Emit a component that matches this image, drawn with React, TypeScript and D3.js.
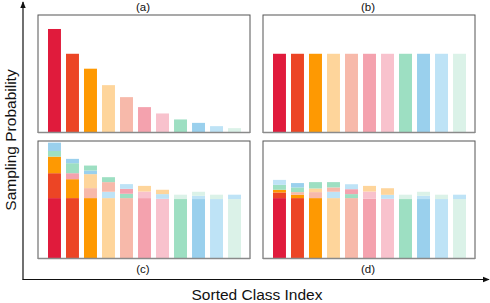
import React, { useEffect, useRef } from 'react'
import * as d3 from 'd3'

// class colours, sorted from head to tail class
const classColors = [
  '#e01b3c', '#ec4525', '#fe9902', '#fed59b', '#f7b9aa', '#f4a2ae',
  '#f8c2cd', '#9ddfc2', '#9ad0ed', '#bee3f6', '#dbf2e8',
]
const classIdx = d3.range(11)

// (a) original long-tailed sampling probability
const probA = [0.881, 0.67, 0.543, 0.403, 0.301, 0.216, 0.162, 0.111, 0.082, 0.054, 0.037]
// (b) class-balanced sampling
const probB = [0.67, 0.67, 0.67, 0.67, 0.67, 0.67, 0.67, 0.67, 0.67, 0.67, 0.67]

// (c),(d): stacked segments [class colour index, height]
const stackC = [
  [[0, 0.514], [1, 0.212], [2, 0.141], [7, 0.048], [8, 0.071]],
  [[1, 0.514], [2, 0.161], [5, 0.051], [7, 0.085], [8, 0.037]],
  [[2, 0.514], [4, 0.085], [3, 0.119], [8, 0.031], [7, 0.042]],
  [[3, 0.514], [9, 0.054], [4, 0.082], [7, 0.042]],
  [[4, 0.514], [7, 0.037], [5, 0.042], [9, 0.04]],
  [[5, 0.514], [6, 0.056], [3, 0.048]],
  [[6, 0.508], [9, 0.04], [3, 0.037]],
  [[7, 0.506], [10, 0.037]],
  [[8, 0.506], [9, 0.028], [10, 0.034]],
  [[9, 0.506], [10, 0.037]],
  [[10, 0.506], [9, 0.037]],
]
const stackD = [
  [[0, 0.514], [1, 0.048], [2, 0.023], [7, 0.042], [9, 0.042]],
  [[1, 0.514], [2, 0.028], [4, 0.023], [7, 0.04], [8, 0.037]],
  [[2, 0.514], [4, 0.051], [3, 0.031], [7, 0.054]],
  [[3, 0.514], [9, 0.054], [4, 0.037], [7, 0.045]],
  [[4, 0.514], [7, 0.034], [5, 0.042], [9, 0.042]],
  [[5, 0.508], [6, 0.062], [3, 0.048]],
  [[6, 0.508], [9, 0.034], [3, 0.056]],
  [[7, 0.506], [10, 0.037]],
  [[8, 0.506], [9, 0.028], [10, 0.034]],
  [[9, 0.506], [10, 0.037]],
  [[10, 0.506], [9, 0.037]],
]

const panels = [
  { label: '(a)', x: 38, y: 15, labelTop: true, stacks: probA.map((v, i) => [[i, v]]) },
  { label: '(b)', x: 263, y: 15, labelTop: true, stacks: probB.map((v, i) => [[i, v]]) },
  { label: '(c)', x: 38, y: 141, labelTop: false, stacks: stackC },
  { label: '(d)', x: 263, y: 141, labelTop: false, stacks: stackD },
]

const W = 490
const H = 303
const pw = 212
const ph = 117.5

const App = () => {
  const svgRef = useRef(null)

  useEffect(() => {
    const svg = d3.select(svgRef.current)
    svg.selectAll('*').remove()
    const font = 'Liberation Sans, Arial, sans-serif'

    const xScale = d3.scaleBand().domain(classIdx).range([10, pw - 9]).paddingInner(0.28).paddingOuter(0)
    const yScale = d3.scaleLinear().domain([0, 1]).range([ph, 0])

    panels.forEach((p) => {
      const g = svg.append('g').attr('transform', `translate(${p.x}, ${p.y})`)
      p.stacks.forEach((segs, i) => {
        let acc = 0
        segs.forEach(([c, v]) => {
          g.append('rect')
            .attr('x', xScale(i))
            .attr('width', xScale.bandwidth())
            .attr('y', yScale(acc + v))
            .attr('height', yScale(acc) - yScale(acc + v))
            .attr('fill', classColors[c])
          acc += v
        })
      })
      g.append('rect')
        .attr('x', 0)
        .attr('y', 0)
        .attr('width', pw)
        .attr('height', ph)
        .attr('fill', 'none')
        .attr('stroke', '#555')
        .attr('stroke-width', 1)
      g.append('line')
        .attr('x1', 0)
        .attr('x2', pw)
        .attr('y1', ph)
        .attr('y2', ph)
        .attr('stroke', '#8a8a8a')
        .attr('stroke-width', 1.5)
      g.append('text')
        .attr('x', pw / 2 - 1)
        .attr('y', p.labelTop ? -4 : ph + 14)
        .attr('text-anchor', 'middle')
        .attr('font-family', font)
        .attr('font-size', 11.5)
        .attr('fill', '#111')
        .text(p.label)
    })

    // outer axes with arrows
    svg.append('defs')
      .append('marker')
      .attr('id', 'arrow')
      .attr('viewBox', '0 0 10 10')
      .attr('refX', 9)
      .attr('refY', 5)
      .attr('markerWidth', 6)
      .attr('markerHeight', 6)
      .attr('orient', 'auto')
      .append('path')
      .attr('d', 'M0,1 L10,5 L0,9 z')
      .attr('fill', '#111')
    svg.append('line')
      .attr('x1', 23).attr('y1', 279.5).attr('x2', 23).attr('y2', 2)
      .attr('stroke', '#111').attr('stroke-width', 1.2)
      .attr('marker-end', 'url(#arrow)')
    svg.append('line')
      .attr('x1', 22.4).attr('y1', 279.5).attr('x2', 489).attr('y2', 279.5)
      .attr('stroke', '#111').attr('stroke-width', 1.2)
      .attr('marker-end', 'url(#arrow)')

    svg.append('text')
      .attr('x', 257)
      .attr('y', 300)
      .attr('text-anchor', 'middle')
      .attr('font-family', font)
      .attr('font-size', 15.5)
      .attr('fill', '#111')
      .text('Sorted Class Index')
    svg.append('text')
      .attr('transform', 'translate(16, 140) rotate(-90)')
      .attr('text-anchor', 'middle')
      .attr('font-family', font)
      .attr('font-size', 15.5)
      .attr('fill', '#111')
      .text('Sampling Probability')
  }, [])

  return <svg ref={svgRef} width={W} height={H} style={{ position: 'absolute', left: 0, top: 0 }} />
}

export default App
